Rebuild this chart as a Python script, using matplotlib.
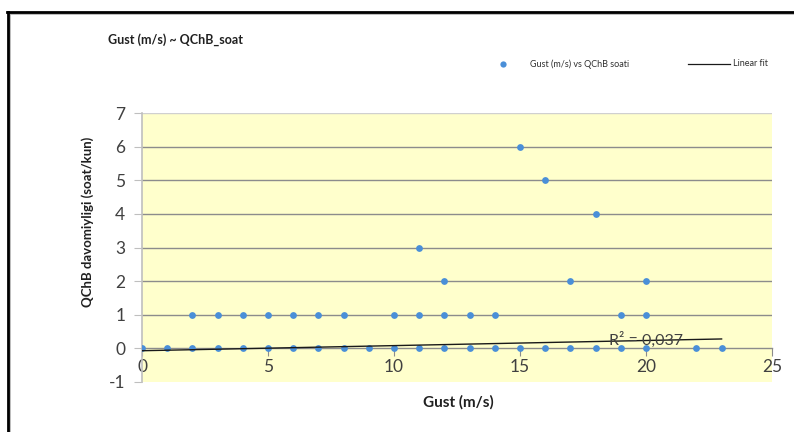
import matplotlib
matplotlib.use("Agg")
import matplotlib.pyplot as plt
from matplotlib.lines import Line2D

plt.rcParams['font.family'] = ['Lato', 'DejaVu Sans']

# Data
gust_y0 = [0, 1, 2, 3, 4, 5, 6, 7, 8, 9, 10, 11, 12, 13, 14, 15, 16, 17, 18, 19, 20, 22, 23]
gust_y1 = [2, 3, 4, 5, 6, 7, 8, 10, 11, 12, 13, 14, 19, 20]
gust_y2 = [12, 17, 20]
gust_hi = [11, 18, 16, 15]
qchb_hi = [3, 4, 5, 6]

gust = gust_y0 + gust_y1 + gust_y2 + gust_hi
qchb = [0] * len(gust_y0) + [1] * len(gust_y1) + [2] * len(gust_y2) + qchb_hi

fit_x = [0, 23]
fit_y = [-0.07, 0.28]
r2_text = "R² = 0,037"

title = "Gust (m/s) ~ QChB_soat"
xlabel = "Gust (m/s)"
ylabel = "QChB davomiyligi (soat/kun)"
legend_scatter = "Gust (m/s) vs QChB soati"
legend_line = "Linear fit"
xticks = [0, 5, 10, 15, 20, 25]
yticks = [-1, 0, 1, 2, 3, 4, 5, 6, 7]

W, H = 794, 432
fig = plt.figure(figsize=(W / 100, H / 100), dpi=100)
fig.patch.set_facecolor('white')

ax = fig.add_axes([142 / W, 1 - 382 / H, (772 - 142) / W, (382 - 113) / H])
ax.set_facecolor('#FFFFCC')
ax.set_xlim(0, 25)
ax.set_ylim(-1, 7)

for yv in yticks[2:-1]:
    ax.axhline(yv, color='#8C8C8C', lw=1.0, zorder=1)
ax.axhline(7, color='#D0D0D0', lw=1.0, zorder=1)

ax.scatter(gust, qchb, s=24, color='#4A8FD8', zorder=3, linewidths=0)
ax.plot(fit_x, fit_y, color='#1A1A1A', lw=1.0, zorder=4)
ax.text(18.55, 0.24, r2_text, fontsize=11.5, color='#404040', ha='left', va='center', zorder=5)

for s in ['top', 'right']:
    ax.spines[s].set_visible(False)
ax.spines['left'].set_color('#BFBFBF')
ax.spines['left'].set_linewidth(1.2)
ax.spines['bottom'].set_position(('data', 0))
ax.spines['bottom'].set_color('#8C8C8C')
ax.spines['bottom'].set_linewidth(1.0)

ax.set_xticks(xticks)
ax.set_yticks(yticks)
ax.set_xticklabels([str(v) for v in xticks])
ax.set_yticklabels([str(v) for v in yticks])
ax.tick_params(axis='x', direction='out', length=6, color='#8C8C8C', labelsize=12.5,
               labelcolor='#404040', pad=2)
ax.tick_params(axis='y', direction='out', length=6, color='#BFBFBF', labelsize=12.5,
               labelcolor='#404040', pad=6)

fig.text(458 / W, 1 - 402 / H, xlabel, fontsize=11, fontweight='bold', ha='center', va='center', color='#202020')
fig.text(88 / W, 1 - 222 / H, ylabel, fontsize=9.5, fontweight='bold', rotation=90,
         ha='center', va='center', color='#202020')
fig.text(108 / W, 1 - 40 / H, title, fontsize=9, fontweight='bold', ha='left', va='center', color='#202020')

# Legend drawn manually
fig.add_artist(Line2D([503 / W], [1 - 64 / H], marker='o', markersize=4.5, color='#4A8FD8',
                      markeredgewidth=0, linestyle='none', transform=fig.transFigure))
fig.text(530 / W, 1 - 64 / H, legend_scatter, fontsize=6.5, ha='left', va='center', color='#303030')
fig.add_artist(Line2D([688 / W, 730 / W], [1 - 64 / H, 1 - 64 / H], color='#1A1A1A', lw=0.9,
                      transform=fig.transFigure))
fig.text(733 / W, 1 - 64 / H, legend_line, fontsize=6.5, ha='left', va='center', color='#303030')

# Frame border (top and left)
fig.add_artist(Line2D([9 / W, 1], [1 - 14 / H, 1 - 14 / H], color='#B0B0B0', lw=1.2, transform=fig.transFigure))
fig.add_artist(Line2D([10 / W, 10 / W], [0, 1 - 14 / H], color='#B0B0B0', lw=1.2, transform=fig.transFigure))
fig.add_artist(Line2D([7 / W, 1], [1 - 12 / H, 1 - 12 / H], color='black', lw=2, transform=fig.transFigure))
fig.add_artist(Line2D([8 / W, 8 / W], [0, 1 - 12 / H], color='black', lw=2, transform=fig.transFigure))

fig.savefig('out.png', dpi=100)
